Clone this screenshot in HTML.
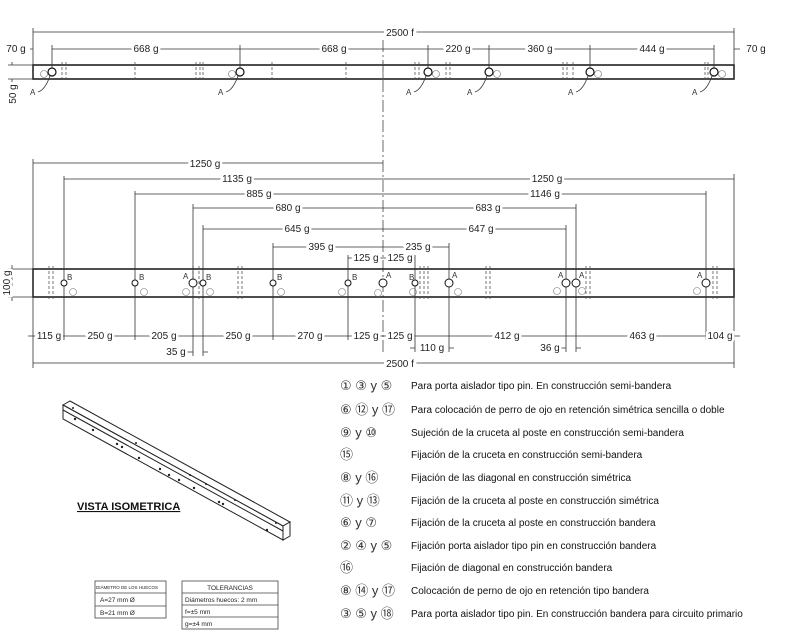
<!DOCTYPE html>
<html><head><meta charset="utf-8"><style>
body{margin:0;background:#fff}
svg{display:block;font-family:"Liberation Sans","DejaVu Sans",sans-serif}
.l{stroke:#333;stroke-width:.8;fill:none}
.b{stroke:#222;stroke-width:1.6;fill:none}
.d{stroke:#555;stroke-width:.8;fill:none;stroke-dasharray:3 2}
.t{font-size:10px;fill:#222;text-anchor:middle;stroke:#fff;stroke-width:5px;paint-order:stroke}
.s{font-size:8px;fill:#333}
.g{font-size:10px;fill:#111}
.n{font-size:13px;fill:#333}
</style></head><body>
<svg width="800" height="640" viewBox="0 0 800 640">
<line x1="383" y1="40" x2="383" y2="352" stroke="#444" stroke-width=".8" stroke-dasharray="12 3 2 3"/>
<!-- TOP BEAM -->
<rect x="33" y="65" width="701" height="14" class="b"/>
<path class="l" d="M33 28V79M734 28V79M33 32H734M52 45V72M240 45V72M428 45V72M489 45V72M590 45V72M714 45V72M52 49H714M30 49H33M734 49H740"/>
<text x="400" y="36" class="t">2500 f</text>
<text x="16" y="52" class="t">70 g</text>
<text x="146" y="52" class="t">668 g</text>
<text x="334" y="52" class="t">668 g</text>
<text x="458" y="52" class="t">220 g</text>
<text x="540" y="52" class="t">360 g</text>
<text x="652" y="52" class="t">444 g</text>
<text x="756" y="52" class="t">70 g</text>
<path class="l" d="M8 65H33M8 79H33M12 62V65M12 79V82"/>
<text transform="translate(16,94) rotate(-90)" class="t">50 g</text>
<g class="d"><path d="M62 62V82M66 62V82M135 62V82M196 62V82M200 62V82M203 62V82M272 62V82M346 62V82M383 62V82M415 62V82M419 62V82M446 62V82M450 62V82M563 62V82M567 62V82M573 62V82M705 62V82M708 62V82"/></g>
<g fill="#fff" stroke="#111" stroke-width="1.2"><circle cx="52" cy="72" r="4"/><circle cx="240" cy="72" r="4"/><circle cx="428" cy="72" r="4"/><circle cx="489" cy="72" r="4"/><circle cx="590" cy="72" r="4"/><circle cx="714" cy="72" r="4"/></g>
<g fill="none" stroke="#666" stroke-width=".6"><circle cx="44" cy="74" r="3.5"/><circle cx="232" cy="74" r="3.5"/><circle cx="436" cy="74" r="3.5"/><circle cx="497" cy="74" r="3.5"/><circle cx="598" cy="74" r="3.5"/><circle cx="722" cy="74" r="3.5"/></g>
<path class="l" d="M50 76Q45 90 38 92M238 76Q233 90 226 92M426 76Q421 90 414 92M487 76Q482 90 475 92M588 76Q583 90 576 92M712 76Q707 90 700 92"/>
<g class="s" font-size="7"><text x="30" y="95">A</text><text x="218" y="95">A</text><text x="406" y="95">A</text><text x="467" y="95">A</text><text x="568" y="95">A</text><text x="692" y="95">A</text></g>

<!-- BOTTOM BEAM -->
<rect x="33" y="269" width="701" height="28" class="b"/>
<g class="d"><path d="M49 266V301M53 266V301M193 266V301M199 266V301M238 266V301M242 266V301M420 266V301M424 266V301M428 266V301M486 266V301M490 266V301M586 266V301M590 266V301M713 266V301M717 266V301"/></g>
<path class="l" d="M33 159V368M734 174V368M64 176V340M135 191V340M193 204V356M203 225V356M273 243V340M348 255V340M415 255V352M449 243V352M566 225V352M576 204V352M706 191V340"/>
<path class="l" d="M33 163H383M64 179H734M135 194H706M193 208H576M203 229H566M273 247H449M348 258H415"/>
<text x="205" y="167" class="t">1250 g</text>
<text x="237" y="182" class="t">1135 g</text>
<text x="259" y="197" class="t">885 g</text>
<text x="288" y="211" class="t">680 g</text>
<text x="297" y="232" class="t">645 g</text>
<text x="321" y="250" class="t">395 g</text>
<text x="366" y="261" class="t">125 g</text>
<text x="547" y="182" class="t">1250 g</text>
<text x="545" y="197" class="t">1146 g</text>
<text x="488" y="211" class="t">683 g</text>
<text x="481" y="232" class="t">647 g</text>
<text x="418" y="250" class="t">235 g</text>
<text x="400" y="261" class="t">125 g</text>
<path class="l" d="M28 336H740M186 352H193M203 352H208M410 348H415M449 348H454M561 348H566M576 348H581M33 363H734"/>
<text x="49" y="339" class="t">115 g</text>
<text x="100" y="339" class="t">250 g</text>
<text x="164" y="339" class="t">205 g</text>
<text x="238" y="339" class="t">250 g</text>
<text x="310" y="339" class="t">270 g</text>
<text x="366" y="339" class="t">125 g</text>
<text x="400" y="339" class="t">125 g</text>
<text x="507" y="339" class="t">412 g</text>
<text x="642" y="339" class="t">463 g</text>
<text x="720" y="339" class="t">104 g</text>
<text x="176" y="355" class="t">35 g</text>
<text x="432" y="351" class="t">110 g</text>
<text x="550" y="351" class="t">36 g</text>
<text x="400" y="367" class="t">2500 f</text>
<path class="l" d="M8 269H33M8 297H33M12 265V301"/>
<text transform="translate(10,283) rotate(-90)" class="t">100 g</text>
<g fill="#fff" stroke="#111" stroke-width="1"><circle cx="64" cy="283" r="3"/><circle cx="135" cy="283" r="3"/><circle cx="193" cy="283" r="4"/><circle cx="203" cy="283" r="3"/><circle cx="273" cy="283" r="3"/><circle cx="348" cy="283" r="3"/><circle cx="383" cy="283" r="4"/><circle cx="415" cy="283" r="3"/><circle cx="449" cy="283" r="4"/><circle cx="566" cy="283" r="4"/><circle cx="576" cy="283" r="4"/><circle cx="706" cy="283" r="4"/></g>
<g class="s"><text x="67" y="280">B</text><text x="139" y="280">B</text><text x="183" y="279">A</text><text x="206" y="280">B</text><text x="277" y="280">B</text><text x="352" y="280">B</text><text x="386" y="278">A</text><text x="409" y="280">B</text><text x="452" y="278">A</text><text x="558" y="278">A</text><text x="579" y="278">A</text><text x="697" y="278">A</text></g>
<g fill="none" stroke="#777" stroke-width=".6"><circle cx="73" cy="292" r="3.5"/><circle cx="144" cy="292" r="3.5"/><circle cx="186" cy="292" r="3.5"/><circle cx="210" cy="292" r="3.5"/><circle cx="281" cy="292" r="3.5"/><circle cx="342" cy="292" r="3.5"/><circle cx="378" cy="293" r="3.5"/><circle cx="413" cy="292" r="3.5"/><circle cx="458" cy="292" r="3.5"/><circle cx="557" cy="291" r="3.5"/><circle cx="582" cy="291" r="3.5"/><circle cx="697" cy="291" r="3.5"/></g>

<!-- ISOMETRIC -->
<g stroke="#222" stroke-width="1" fill="#fff">
<path d="M63 405L70 401L290 522L283 526Z"/>
<path d="M63 405L283 526L283 540L63 419Z"/>
<path d="M283 526L290 522L290 536L283 540Z"/>
</g>
<line x1="63" y1="410" x2="283" y2="531" stroke="#222" stroke-width="1"/>
<g fill="#222"><circle cx="75" cy="419" r="1.2"/><circle cx="93" cy="430" r="1.2"/><circle cx="117" cy="444" r="1.2"/><circle cx="122" cy="447" r="1.2"/><circle cx="139" cy="458" r="1.2"/><circle cx="160" cy="469" r="1.2"/><circle cx="169" cy="475" r="1.2"/><circle cx="179" cy="480" r="1.2"/><circle cx="194" cy="488" r="1.2"/><circle cx="219" cy="502" r="1.2"/><circle cx="223" cy="504" r="1.2"/><circle cx="267" cy="530" r="1.2"/><circle cx="73" cy="408" r="1"/><circle cx="136" cy="443" r="1"/><circle cx="190" cy="475" r="1"/><circle cx="206" cy="484" r="1"/><circle cx="235" cy="500" r="1"/><circle cx="276" cy="523" r="1"/></g>
<text x="77" y="510" font-size="11" font-weight="bold" fill="#111" text-decoration="underline">VISTA ISOMETRICA</text>

<g stroke="#444" stroke-width=".8" fill="none"><rect x="95" y="581" width="71" height="37"/><path d="M95 593H166M95 606H166"/>
<rect x="182" y="581" width="96" height="48"/><path d="M182 593H278M182 605H278M182 617H278"/></g>
<g font-size="6.5" fill="#222"><text x="96" y="589" font-size="4.5">DIÁMETRO DE LOS HUECOS</text><text x="100" y="602">A=27 mm Ø</text><text x="100" y="615">B=21 mm Ø</text>
<text x="230" y="590" text-anchor="middle">TOLERANCIAS</text><text x="185" y="602">Diámetros huecos: 2 mm</text><text x="185" y="614">f=±5 mm</text><text x="185" y="626">g=±4 mm</text></g>

<g class="g">
<text x="340" y="390" class="n">① ③ y ⑤</text><text x="411" y="389">Para porta aislador tipo pin. En construcción semi-bandera</text>
<text x="340" y="414" class="n">⑥ ⑫ y ⑰</text><text x="411" y="413">Para colocación de perro de ojo en retención simétrica sencilla o doble</text>
<text x="340" y="437" class="n">⑨ y ⑩</text><text x="411" y="436">Sujeción de la cruceta al poste en construcción semi-bandera</text>
<text x="340" y="459" class="n">⑮</text><text x="411" y="458">Fijación de la cruceta en construcción semi-bandera</text>
<text x="340" y="482" class="n">⑧ y ⑯</text><text x="411" y="481">Fijación de las diagonal en construcción simétrica</text>
<text x="340" y="505" class="n">⑪ y ⑬</text><text x="411" y="504">Fijación de la cruceta al poste en construcción simétrica</text>
<text x="340" y="527" class="n">⑥ y ⑦</text><text x="411" y="526">Fijación de la cruceta al poste en construcción bandera</text>
<text x="340" y="550" class="n">② ④ y ⑤</text><text x="411" y="549">Fijación porta aislador tipo pin en construcción bandera</text>
<text x="340" y="572" class="n">⑯</text><text x="411" y="571">Fijación de diagonal en construcción bandera</text>
<text x="340" y="595" class="n">⑧ ⑭ y ⑰</text><text x="411" y="594">Colocación de perno de ojo en retención tipo bandera</text>
<text x="340" y="618" class="n">③ ⑤ y ⑱</text><text x="411" y="617">Para porta aislador tipo pin. En construcción bandera para circuito primario</text>
</g>
</svg>
</body></html>
